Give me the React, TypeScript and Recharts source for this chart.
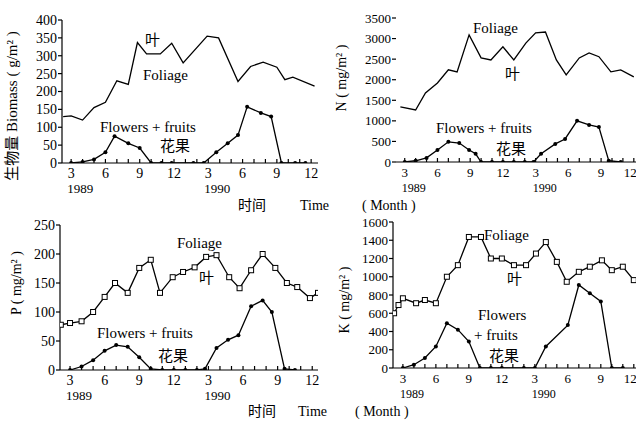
import React from "react";
import { LineChart, Line, XAxis, YAxis } from "recharts";

// ---- Panel 1: Biomass (g/m2) ----
const bioFoliageT = [2.3, 3, 4, 5, 6, 7, 8, 8.8, 9.6, 10.8, 11.8, 12.8, 14.9, 15.9, 17.6, 18.7, 19.8, 21, 21.7, 22.4, 24.3];
const bioFoliageV = [130, 132, 120, 155, 170, 230, 220, 337, 305, 305, 335, 280, 355, 350, 228, 270, 282, 268, 233, 240, 215];
const bioFlowerT = [3, 4, 5, 6, 6.8, 8, 9, 10, 10.9, 11.8, 13.7, 14.6, 15.7, 16.7, 17.6, 18.4, 19.6, 20.5, 21.4, 22.6, 23.5];
const bioFlowerV = [0, 3, 10, 30, 75, 55, 42, 0, 0, 0, 0, 0, 30, 55, 78, 157, 140, 130, 0, 0, 0];

// ---- Panel 2: N (mg/m2) ----
const nFoliageT = [2.6, 4, 4.9, 6, 7, 7.8, 8.9, 10, 10.9, 12, 13, 14.1, 15, 15.9, 16.9, 17.8, 19, 19.9, 20.8, 21.9, 22.8, 24];
const nFoliageV = [1340, 1265, 1680, 1920, 2240, 2190, 3090, 2530, 2480, 2800, 2480, 2890, 3140, 3160, 2480, 2120, 2530, 2650, 2560, 2190, 2240, 2070];
const nFlowerT = [3, 4, 5, 6, 7, 8, 8.9, 9.5, 10, 11, 12, 13, 14, 14.8, 15.5, 16.8, 17.7, 18.8, 19.9, 20.8, 21.7, 22.8];
const nFlowerV = [0, 30, 100, 290, 490, 460, 290, 200, 0, 0, 0, 0, 0, 0, 200, 440, 560, 1000, 900, 850, 30, 0];

// ---- Panel 3: P (mg/m2) ----
const pFoliageT = [2.2, 3, 4, 5, 6, 6.9, 8, 9, 10, 10.8, 11.9, 12.8, 13.8, 14.8, 15.7, 16.8, 17.7, 18.7, 19.7, 20.8, 21.8, 22.7, 23.8, 24.5];
const pFoliageV = [78, 81, 84, 100, 126, 150, 133, 176, 190, 133, 160, 169, 177, 195, 198, 160, 141, 172, 200, 176, 150, 143, 124, 133];
const pFlowerT = [3, 4, 5, 6, 7, 8, 9, 10, 11, 12, 13, 14, 14.7, 15.7, 16.7, 17.6, 18.7, 19.7, 20.5, 21.6, 22.5];
const pFlowerV = [0, 6, 17, 33, 43, 40, 22, 2, 0, 0, 0, 0, 2, 38, 52, 60, 110, 120, 100, 2, 0];

// ---- Panel 4: K (mg/m2) ----
const kFoliageT = [2.2, 2.6, 3, 4.2, 5, 6, 7, 8, 9, 10.1, 11, 12, 13.1, 14.2, 15.1, 16, 17, 17.9, 19, 20, 21.1, 22, 23, 24];
const kFoliageV = [600, 690, 764, 710, 745, 710, 1000, 1127, 1436, 1436, 1200, 1200, 1127, 1127, 1254, 1380, 1163, 945, 1054, 1110, 1180, 1072, 1110, 963];
const kFlowerT = [3, 4, 5, 6, 7, 8, 9, 10, 11, 12, 14, 15, 16, 18, 19, 20, 21, 22, 23];
const kFlowerV = [0, 36, 110, 236, 490, 420, 290, 0, 0, 0, 0, 0, 236, 470, 910, 820, 730, 0, 0];

const monthTicks = [3, 4, 5, 6, 7, 8, 9, 10, 11, 12, 13, 14, 15, 16, 17, 18, 19, 20, 21, 22, 23, 24];
const yearLabels: Record<number, string> = { 3: "1989", 15: "1990" };
const bioTicks = [0, 50, 100, 150, 200, 250, 300, 350, 400];
const nTicks = [0, 500, 1000, 1500, 2000, 2500, 3000, 3500];
const pTicks = [0, 50, 100, 150, 200, 250];
const kTicks = [0, 200, 400, 600, 800, 1000, 1200, 1400, 1600];

const SERIF = "'Liberation Serif', 'DejaVu Serif', 'Noto Sans CJK SC', serif";
const CJK = "'Noto Sans CJK SC', sans-serif";

const toData = (t: number[], v: number[]) => t.map((x, i) => ({ t: x, v: v[i] }));

const MonthTick = (props: any) => {
  const { x, y, payload, fontSize, pageRight, offsetX } = props;
  const m = payload.value as number;
  const showLabel = m % 3 === 0;
  const label = ((m - 1) % 12) + 1;
  const overflow = pageRight != null && offsetX + x + 8 > pageRight;
  return (
    <g>
      <line x1={x} x2={x} y1={y} y2={y - 4} stroke="#000" strokeWidth={1.2} />
      {showLabel && (
        <text
          x={overflow ? x + 3 : x}
          y={y + 15}
          textAnchor={overflow ? "end" : "middle"}
          fontSize={fontSize}
          fontFamily={SERIF}
          fill="#000"
        >
          {label}
        </text>
      )}
      {yearLabels[m] && (
        <text x={x + 9} y={y + 30} textAnchor="middle" fontSize={fontSize - 1} fontFamily={SERIF} fill="#000">
          {yearLabels[m]}
        </text>
      )}
    </g>
  );
};

const SquareDot = (props: any) => {
  const { cx, cy } = props;
  if (cx == null || cy == null) return null;
  return <rect x={cx - 2.5} y={cy - 2.5} width={5} height={5} fill="#fff" stroke="#000" strokeWidth={1} />;
};

const FilledDot = (props: any) => {
  const { cx, cy } = props;
  if (cx == null || cy == null) return null;
  return <circle cx={cx} cy={cy} r={2} fill="#000" />;
};

type PanelProps = {
  left: number;
  top: number;
  width: number;
  height: number;
  margin: { top: number; right: number; bottom: number; left: number };
  yWidth: number;
  xHeight: number;
  xDomain: [number, number];
  yDomain: [number, number];
  yTicks: number[];
  foliage: { t: number; v: number }[];
  flowers: { t: number; v: number }[];
  squares: boolean;
  fontSize: number;
  yAxisLine: boolean;
};

const Panel = (p: PanelProps) => (
  <div style={{ position: "absolute", left: p.left, top: p.top }}>
    <LineChart width={p.width} height={p.height} margin={p.margin}>
      <XAxis
        type="number"
        dataKey="t"
        domain={p.xDomain}
        ticks={monthTicks}
        interval={0}
        allowDataOverflow
        tickLine={false}
        tickSize={0}
        tickMargin={0}
        height={p.xHeight}
        axisLine={{ stroke: "#000", strokeWidth: 1.2 }}
        tick={<MonthTick fontSize={p.fontSize} pageRight={636} offsetX={p.left} />}
      />
      <YAxis
        type="number"
        domain={p.yDomain}
        ticks={p.yTicks}
        interval={0}
        width={p.yWidth}
        allowDataOverflow
        axisLine={p.yAxisLine ? { stroke: "#000", strokeWidth: 1.2 } : false}
        tickLine={{ stroke: "#000", strokeWidth: 1.2 }}
        tickSize={4}
        tickMargin={1}
        tick={{ fontSize: p.fontSize, fontFamily: SERIF, fill: "#000" }}
      />
      <Line
        data={p.foliage}
        dataKey="v"
        type="linear"
        stroke="#000"
        strokeWidth={1.3}
        dot={p.squares ? <SquareDot /> : false}
        isAnimationActive={false}
      />
      <Line
        data={p.flowers}
        dataKey="v"
        type="linear"
        stroke="#000"
        strokeWidth={1.3}
        dot={<FilledDot />}
        isAnimationActive={false}
      />
    </LineChart>
  </div>
);

const T = (props: { x: number; y: number; children: React.ReactNode; size?: number; cjk?: boolean; anchor?: string }) => (
  <text
    x={props.x}
    y={props.y}
    fontSize={props.size ?? 15}
    fontFamily={props.cjk ? CJK : SERIF}
    textAnchor={(props.anchor as any) ?? "start"}
    fill="#000"
  >
    {props.children}
  </text>
);

const RotT = (props: { x: number; y: number; children: React.ReactNode; size?: number }) => (
  <text
    x={props.x}
    y={props.y}
    fontSize={props.size ?? 14}
    fontFamily={SERIF}
    textAnchor="middle"
    dominantBaseline="middle"
    transform={`rotate(-90, ${props.x}, ${props.y})`}
    fill="#000"
  >
    {props.children}
  </text>
);

export default function App() {
  return (
    <div style={{ position: "absolute", left: 0, top: 0, width: 636, height: 426, background: "#fff", overflow: "hidden" }}>
      <Panel
        left={0}
        top={0}
        width={320}
        height={205}
        margin={{ top: 20, right: 2, bottom: 0, left: 22 }}
        yWidth={40}
        xHeight={42}
        xDomain={[2.2, 24.6]}
        yDomain={[0, 400]}
        yTicks={bioTicks}
        foliage={toData(bioFoliageT, bioFoliageV)}
        flowers={toData(bioFlowerT, bioFlowerV)}
        squares={false}
        fontSize={14}
        yAxisLine={true}
      />
      <Panel
        left={316}
        top={0}
        width={320}
        height={205}
        margin={{ top: 18, right: 0, bottom: 0, left: 30 }}
        yWidth={50}
        xHeight={43}
        xDomain={[2.2, 24.2]}
        yDomain={[0, 3500]}
        yTicks={nTicks}
        foliage={toData(nFoliageT, nFoliageV)}
        flowers={toData(nFlowerT, nFlowerV)}
        squares={false}
        fontSize={13}
        yAxisLine={false}
      />
      <Panel
        left={0}
        top={205}
        width={320}
        height={221}
        margin={{ top: 20, right: 2, bottom: 0, left: 22 }}
        yWidth={38}
        xHeight={56}
        xDomain={[2.13, 24.5]}
        yDomain={[0, 250]}
        yTicks={pTicks}
        foliage={toData(pFoliageT, pFoliageV)}
        flowers={toData(pFlowerT, pFlowerV)}
        squares={true}
        fontSize={14}
        yAxisLine={true}
      />
      <Panel
        left={316}
        top={205}
        width={320}
        height={221}
        margin={{ top: 17, right: 0, bottom: 0, left: 30 }}
        yWidth={47}
        xHeight={58}
        xDomain={[2.1, 24.2]}
        yDomain={[0, 1600]}
        yTicks={kTicks}
        foliage={toData(kFoliageT, kFoliageV)}
        flowers={toData(kFlowerT, kFlowerV)}
        squares={true}
        fontSize={13}
        yAxisLine={true}
      />
      <svg width={636} height={426} style={{ position: "absolute", left: 0, top: 0, pointerEvents: "none" }}>
        {/* axis titles */}
        <RotT x={14} y={106} size={15}>生物量  Biomass  ( g/m² )</RotT>
        <RotT x={343} y={78} size={14}>N  ( mg/m² )</RotT>
        <RotT x={18} y={283} size={14}>P  ( mg/m² )</RotT>
        <RotT x={346} y={300} size={14}>K  ( mg/m² )</RotT>

        <T x={238} y={210} size={14} cjk>时间</T>
        <T x={300} y={210} size={14}>Time</T>
        <T x={362} y={210} size={14}>( Month )</T>
        <T x={248} y={416} size={14} cjk>时间</T>
        <T x={298} y={416} size={14}>Time</T>
        <T x={355} y={416} size={14}>( Month )</T>

        {/* panel 1 annotations */}
        <T x={145} y={45} size={15} cjk>叶</T>
        <T x={143} y={80} size={15}>Foliage</T>
        <T x={100} y={132} size={15}>Flowers + fruits</T>
        <T x={160} y={151} size={15} cjk>花果</T>

        {/* panel 2 annotations */}
        <T x={473} y={33} size={15}>Foliage</T>
        <T x={505} y={79} size={15} cjk>叶</T>
        <T x={436} y={133} size={15}>Flowers + fruits</T>
        <T x={496} y={154} size={15} cjk>花果</T>

        {/* panel 3 annotations */}
        <T x={177} y={248} size={15}>Foliage</T>
        <T x={199} y={283} size={15} cjk>叶</T>
        <T x={97} y={338} size={15}>Flowers + fruits</T>
        <T x={158} y={361} size={15} cjk>花果</T>

        {/* panel 4 annotations */}
        <T x={484} y={240} size={15}>Foliage</T>
        <T x={507} y={284} size={15} cjk>叶</T>
        <T x={478} y={320} size={15}>Flowers</T>
        <T x={474} y={340} size={15}>+ fruits</T>
        <T x={489} y={361} size={15} cjk>花果</T>
      </svg>
    </div>
  );
}
